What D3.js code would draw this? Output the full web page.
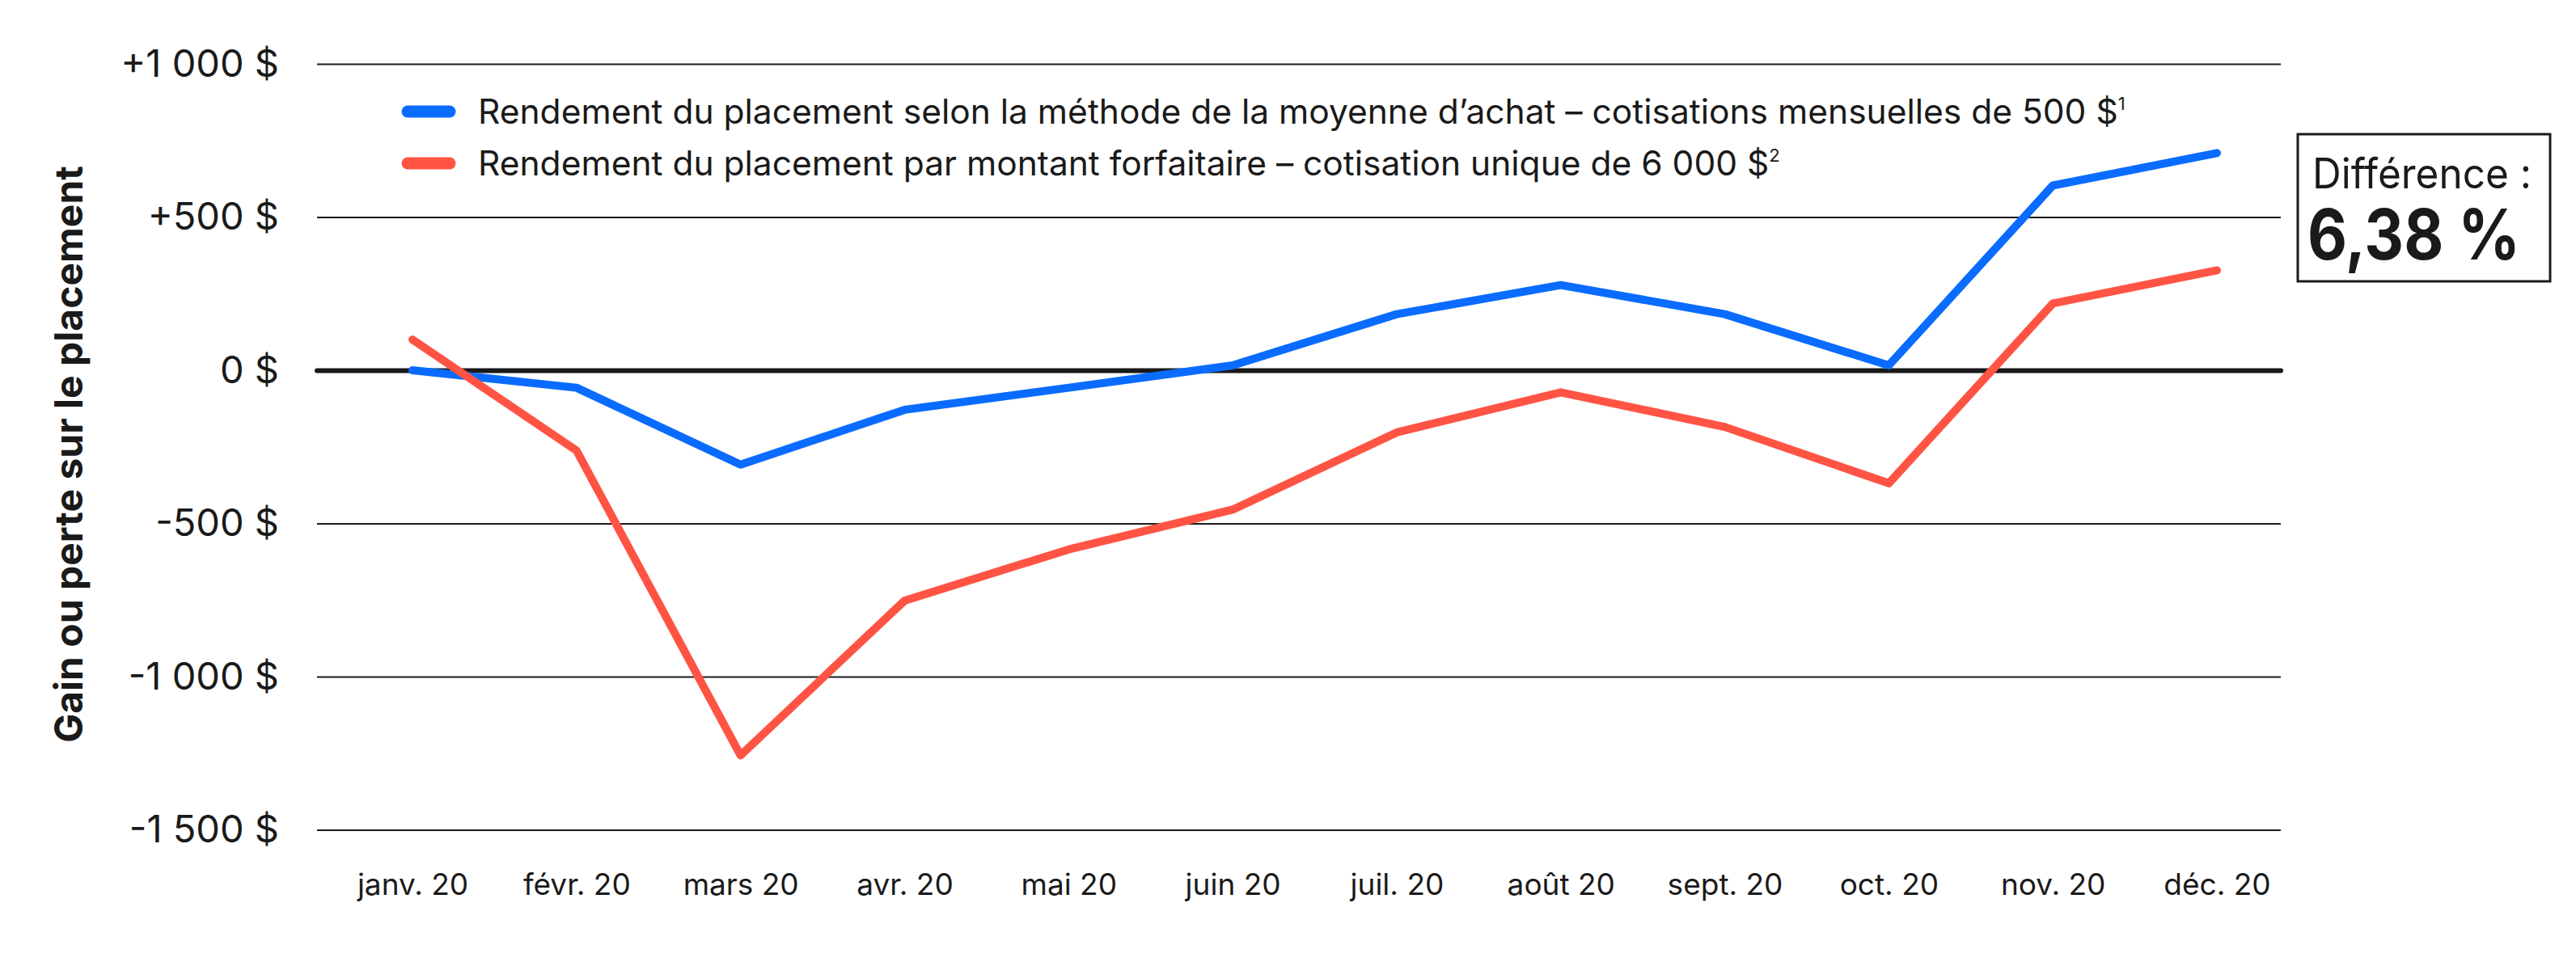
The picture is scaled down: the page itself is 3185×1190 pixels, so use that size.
<!DOCTYPE html>
<html lang="fr">
<head>
<meta charset="utf-8">
<script src="https://cdn.jsdelivr.net/npm/d3@7"></script>
<style>
  body { margin: 0; background: #fff; }
  svg text { font-family: Inter, "Noto Sans", sans-serif; fill: #1a1a1a; }
</style>
</head>
<body>
<div id="chart"></div>
<script>
// données
const months = ["janv. 20", "févr. 20", "mars 20", "avr. 20", "mai 20", "juin 20",
  "juil. 20", "août 20", "sept. 20", "oct. 20", "nov. 20", "déc. 20"];
const dcaValues = [0, -57, -308, -129, -57, 16, 183, 278, 183, 16, 603, 709];
const lumpValues = [100, -262, -1257, -752, -585, -455, -203, -72, -185, -369, 218, 326];
const yTicks = [1000, 500, 0, -500, -1000, -1500];
const seriesNames = [
  "Rendement du placement selon la méthode de la moyenne d’achat – cotisations mensuelles de 500 $",
  "Rendement du placement par montant forfaitaire – cotisation unique de 6 000 $"
];
const seriesNotes = ["1", "2"];
const seriesColors = ["#0a6cff", "#ff5444"];
const yTitle = "Gain ou perte sur le placement";
const diffLabel = "Différence :";
const diffValue = "6,38 %";

const width = 3185, height = 1190;
const plotLeft = 392, plotRight = 2820, plotTop = 79, plotBottom = 1026.5;

const svg = d3.select("#chart").append("svg")
  .attr("width", width)
  .attr("height", height);

const x = d3.scalePoint()
  .domain(months)
  .range([510, 2741]);

const y = d3.scaleLinear()
  .domain([-1500, 1000])
  .range([plotBottom, plotTop]);

const fmt = d => {
  const a = Math.abs(d);
  const s = a >= 1000
    ? Math.floor(a / 1000) + " " + String(a % 1000).padStart(3, "0")
    : String(a);
  return (d > 0 ? "+" : d < 0 ? "-" : "") + s + " $";
};

// axe vertical + quadrillage
const yAxis = svg.append("g")
  .attr("transform", `translate(${plotLeft},0)`)
  .call(d3.axisLeft(y).tickValues(yTicks).tickSize(-(plotRight - plotLeft)).tickPadding(47).tickFormat(fmt));
yAxis.select(".domain").remove();
yAxis.selectAll(".tick line")
  .attr("stroke", "#1a1a1a")
  .attr("stroke-width", d => d === 0 ? 6 : 2)
  .attr("stroke-linecap", d => d === 0 ? "round" : "butt");
yAxis.selectAll(".tick text")
  .style("font-size", "47px")
  .attr("fill", "#1a1a1a");

// axe horizontal
const xAxis = svg.append("g")
  .attr("transform", `translate(0,${plotBottom})`)
  .call(d3.axisBottom(x).tickSize(0).tickPadding(54));
xAxis.select(".domain").remove();
xAxis.selectAll(".tick text")
  .style("font-size", "37px")
  .attr("fill", "#1a1a1a");

// titre de l'axe
svg.append("text")
  .attr("transform", "translate(102,562) rotate(-90)")
  .attr("text-anchor", "middle")
  .style("font-size", "48px")
  .style("font-weight", "700")
  .text(yTitle);

// courbes
const line = d3.line()
  .x((d, i) => x(months[i]))
  .y(d => y(d));

[dcaValues, lumpValues].forEach((vals, i) => {
  svg.append("path")
    .datum(vals)
    .attr("d", line)
    .attr("fill", "none")
    .attr("stroke", seriesColors[i])
    .attr("stroke-width", 10)
    .attr("stroke-linejoin", "round")
    .attr("stroke-linecap", "round");
});

// légende
const legend = svg.append("g");
seriesNames.forEach((name, i) => {
  const cy = 138 + i * 64;
  legend.append("line")
    .attr("x1", 504).attr("x2", 556)
    .attr("y1", cy).attr("y2", cy)
    .attr("stroke", seriesColors[i])
    .attr("stroke-width", 15)
    .attr("stroke-linecap", "round");
  const t = legend.append("text")
    .attr("x", 591)
    .attr("y", cy + 15)
    .style("font-size", "42.5px");
  t.append("tspan").text(name);
  t.append("tspan")
    .attr("dy", -17)
    .style("font-size", "22px")
    .text(seriesNotes[i]);
});

// encadré différence
const box = svg.append("g");
box.append("rect")
  .attr("x", 2841).attr("y", 166)
  .attr("width", 312).attr("height", 182)
  .attr("fill", "#fff")
  .attr("stroke", "#1a1a1a")
  .attr("stroke-width", 3);
box.append("text")
  .attr("x", 2859).attr("y", 233)
  .attr("textLength", 271)
  .attr("lengthAdjust", "spacingAndGlyphs")
  .style("font-size", "52px")
  .text(diffLabel);
box.append("text")
  .attr("x", 2853).attr("y", 321)
  .attr("textLength", 263)
  .attr("lengthAdjust", "spacingAndGlyphs")
  .style("font-size", "86px")
  .style("font-weight", "700")
  .text(diffValue);
</script>
</body>
</html>
